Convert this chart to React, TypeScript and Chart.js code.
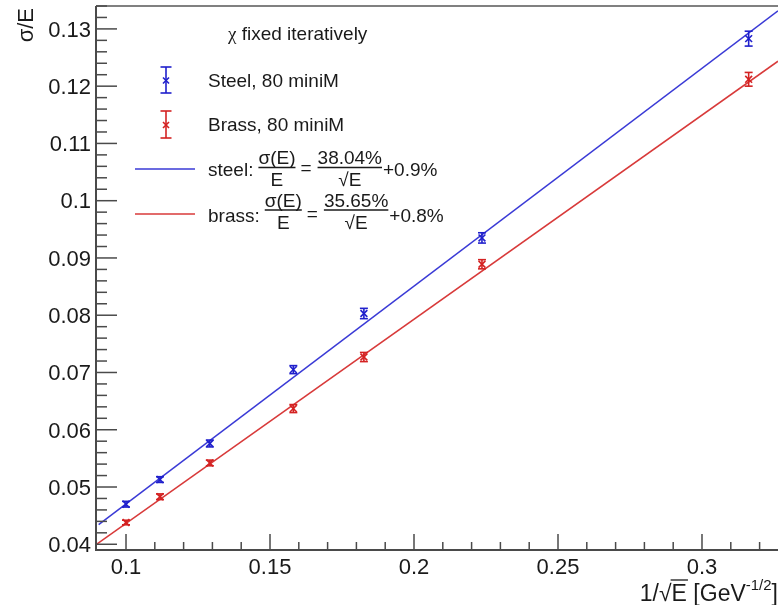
import React, { useEffect, useRef } from "react";
import { Chart, registerables } from "chart.js";

Chart.register(...registerables);

// ---------------- data ----------------
const invSqrtE = [0.1, 0.1118, 0.1291, 0.1581, 0.1826, 0.2236, 0.3162];
const steelValues = [0.047, 0.0513, 0.0576, 0.0705, 0.0803, 0.0935, 0.1283];
const steelErrors = [0.0005, 0.0005, 0.0006, 0.0007, 0.0009, 0.0009, 0.0013];
const brassValues = [0.0438, 0.0483, 0.0542, 0.0637, 0.0727, 0.0889, 0.1212];
const brassErrors = [0.0004, 0.0005, 0.0005, 0.0007, 0.0008, 0.0008, 0.0012];

// fit parameters: sigma/E = a / sqrt(E) + b
const steelFitParams = [0.3804, 0.009];
const brassFitParams = [0.3565, 0.008];
const steelFitStart = 0.0905;
const brassFitStart = 0.0896;

const xTickValues = [0.1, 0.15, 0.2, 0.25, 0.3];
const xTickLabels = ["0.1", "0.15", "0.2", "0.25", "0.3"];
const yTickValues = [0.04, 0.05, 0.06, 0.07, 0.08, 0.09, 0.1, 0.11, 0.12, 0.13];
const yTickLabels = ["0.04", "0.05", "0.06", "0.07", "0.08", "0.09", "0.1", "0.11", "0.12", "0.13"];

const X_MIN = 0.08958;
const X_MAX = 0.32639;
const Y_MIN = 0.039;
const Y_MAX = 0.134;

// ---------------- styles ----------------
const BLUE_LINE = "#3a3ad6";
const RED_LINE = "#d83a3a";
const BLUE_MARK = "#2020cc";
const RED_MARK = "#d42222";
const TEXT = "#1a1a1a";
const AXIS = "#4a4a4a";
const SANS = '"Liberation Sans", Arial, Helvetica, sans-serif';
const SERIF = '"Liberation Serif", "Times New Roman", serif';

const fitPoints = (p: number[], start: number) => [
  { x: start, y: p[0] * start + p[1] },
  { x: X_MAX, y: p[0] * X_MAX + p[1] },
];

const line = (ctx: CanvasRenderingContext2D, x1: number, y1: number, x2: number, y2: number) => {
  ctx.beginPath();
  ctx.moveTo(x1, y1);
  ctx.lineTo(x2, y2);
  ctx.stroke();
};

const drawErrMarker = (
  ctx: CanvasRenderingContext2D,
  x: number,
  y: number,
  top: number,
  bottom: number,
  color: string,
  cap: number,
  xs: number
) => {
  ctx.strokeStyle = color;
  ctx.lineWidth = 1.6;
  line(ctx, x, top, x, bottom);
  line(ctx, x - cap, top, x + cap, top);
  line(ctx, x - cap, bottom, x + cap, bottom);
  line(ctx, x - xs, y - xs, x + xs, y + xs);
  line(ctx, x - xs, y + xs, x + xs, y - xs);
};

const drawFrac = (
  ctx: CanvasRenderingContext2D,
  x: number,
  num: string,
  den: string,
  numBase: number,
  denBase: number,
  barY: number
) => {
  const w = Math.max(ctx.measureText(num).width, ctx.measureText(den).width);
  ctx.textAlign = "center";
  ctx.fillText(num, x + w / 2, numBase);
  ctx.fillText(den, x + w / 2, denBase);
  ctx.strokeStyle = TEXT;
  ctx.lineWidth = 1.3;
  line(ctx, x, barY, x + w, barY);
  ctx.textAlign = "left";
  return w;
};

const rootPlugin = {
  id: "rootStyle",
  afterDatasetsDraw(chart: any) {
    const ctx: CanvasRenderingContext2D = chart.ctx;
    const xs = chart.scales.x;
    const ys = chart.scales.y;
    // error bars on data points
    chart.data.datasets.forEach((ds: any) => {
      if (!ds.errors) return;
      ds.data.forEach((p: any, i: number) => {
        const px = xs.getPixelForValue(p.x);
        const py = ys.getPixelForValue(p.y);
        const top = ys.getPixelForValue(p.y + ds.errors[i]);
        const bot = ys.getPixelForValue(p.y - ds.errors[i]);
        ctx.save();
        drawErrMarker(ctx, px, py, top, bot, ds.borderColor, 4, 3.4);
        ctx.restore();
      });
    });
  },
  afterDraw(chart: any) {
    const ctx: CanvasRenderingContext2D = chart.ctx;
    const xs = chart.scales.x;
    const ys = chart.scales.y;
    const a = chart.chartArea;
    ctx.save();

    // frame
    ctx.strokeStyle = "#808080";
    ctx.lineWidth = 2;
    line(ctx, a.left, a.top, a.right, a.top);
    ctx.strokeStyle = AXIS;
    line(ctx, a.left, a.top, a.left, a.bottom + 1);
    line(ctx, a.left - 1, a.bottom, a.right, a.bottom);

    // x ticks (inward)
    ctx.lineWidth = 1.5;
    for (let k = 9; k <= 33; k++) {
      const v = k / 100;
      if (v <= X_MIN + 0.0005 || v > X_MAX) continue;
      const px = xs.getPixelForValue(v);
      const len = k % 5 === 0 ? 16 : 8;
      line(ctx, px, a.bottom, px, a.bottom - len);
    }
    // y ticks (inward)
    for (let k = 40; k <= 134; k += 2) {
      const v = k / 1000;
      if (v < Y_MIN || v > Y_MAX) continue;
      const py = ys.getPixelForValue(v);
      const len = k % 10 === 0 ? 21 : 11;
      line(ctx, a.left, py, a.left + len, py);
    }

    // tick labels
    ctx.fillStyle = TEXT;
    ctx.font = `22px ${SANS}`;
    ctx.textBaseline = "alphabetic";
    ctx.textAlign = "center";
    xTickValues.forEach((v, i) => {
      ctx.fillText(xTickLabels[i], xs.getPixelForValue(v), 573.5);
    });
    ctx.textAlign = "right";
    yTickValues.forEach((v, i) => {
      ctx.fillText(yTickLabels[i], 91, ys.getPixelForValue(v) + 7.8);
    });

    // y title (rotated)
    ctx.save();
    ctx.translate(33, 8);
    ctx.rotate(-Math.PI / 2);
    ctx.textAlign = "right";
    ctx.font = `22px ${SANS}`;
    ctx.fillText("σ/E", 0, 0);
    ctx.restore();

    // x title: 1/√E [GeV^-1/2]
    {
      const base = 601;
      ctx.font = `23px ${SANS}`;
      const wClose = ctx.measureText("]").width;
      ctx.font = `15px ${SANS}`;
      const wSup = ctx.measureText("-1/2").width;
      ctx.font = `23px ${SANS}`;
      const main = " [GeV";
      const wMain = ctx.measureText(main).width;
      const wE = ctx.measureText("E").width;
      const wRad = ctx.measureText("√").width;
      const w1 = ctx.measureText("1/").width;
      const right = 778;
      ctx.textAlign = "left";
      ctx.fillText("]", right - wClose, base);
      ctx.font = `15px ${SANS}`;
      ctx.fillText("-1/2", right - wClose - wSup, base - 11);
      ctx.font = `23px ${SANS}`;
      let x0 = right - wClose - wSup - wMain;
      ctx.fillText(main, x0, base);
      x0 -= wE;
      ctx.fillText("E", x0, base);
      const eStart = x0;
      x0 -= wRad;
      ctx.fillText("√", x0, base);
      x0 -= w1;
      ctx.fillText("1/", x0, base);
      ctx.strokeStyle = TEXT;
      ctx.lineWidth = 1.3;
      line(ctx, eStart - 1, base - 21, eStart + wE + 1, base - 21);
    }

    // legend header
    ctx.textAlign = "left";
    ctx.font = `19px ${SERIF}`;
    ctx.fillText("χ", 228, 39.5);
    const chiW = ctx.measureText("χ").width;
    ctx.font = `19px ${SANS}`;
    ctx.fillText(" fixed iteratively", 228 + chiW, 39.5);

    // legend markers
    drawErrMarker(ctx, 166, 80.5, 67, 93, BLUE_MARK, 5.5, 3);
    drawErrMarker(ctx, 166, 125, 111, 138, RED_MARK, 5.5, 3);
    ctx.fillStyle = TEXT;
    ctx.font = `19px ${SANS}`;
    ctx.fillText("Steel, 80 miniM", 208, 87);
    ctx.fillText("Brass, 80 miniM", 208, 131);

    // legend fit lines
    ctx.lineWidth = 1.5;
    ctx.strokeStyle = BLUE_LINE;
    line(ctx, 135, 169, 195, 169);
    ctx.strokeStyle = RED_LINE;
    line(ctx, 135, 214, 195, 214);

    const fitRow = (
      label: string,
      num2: string,
      constTerm: string,
      textBase: number,
      barY: number,
      numBase: number,
      denBase: number
    ) => {
      ctx.fillStyle = TEXT;
      ctx.font = `19px ${SANS}`;
      ctx.textAlign = "left";
      let x = 208;
      ctx.fillText(label, x, textBase);
      x += ctx.measureText(label).width + 5;
      x += drawFrac(ctx, x, "σ(E)", "E", numBase, denBase, barY) + 5;
      ctx.fillText("=", x, textBase - 2);
      x += ctx.measureText("=").width + 6;
      x += drawFrac(ctx, x, num2, "√E", numBase, denBase, barY) + 1;
      ctx.fillText(constTerm, x, textBase);
    };
    fitRow("steel:", "38.04%", "+0.9%", 176, 167.5, 164, 186);
    fitRow("brass:", "35.65%", "+0.8%", 222, 210, 206.5, 229);

    ctx.restore();
  },
};

export default function App() {
  const ref = useRef<HTMLCanvasElement>(null);
  useEffect(() => {
    const canvas = ref.current;
    if (!canvas) return;
    const chart = new Chart(canvas, {
      type: "scatter",
      data: {
        datasets: [
          {
            label: "steel fit",
            data: fitPoints(steelFitParams, steelFitStart),
            showLine: true,
            borderColor: BLUE_LINE,
            borderWidth: 1.5,
            pointRadius: 0,
            fill: false,
          },
          {
            label: "brass fit",
            data: fitPoints(brassFitParams, brassFitStart),
            showLine: true,
            borderColor: RED_LINE,
            borderWidth: 1.5,
            pointRadius: 0,
            fill: false,
          },
          {
            label: "Steel, 80 miniM",
            data: invSqrtE.map((x, i) => ({ x, y: steelValues[i] })),
            errors: steelErrors,
            borderColor: BLUE_MARK,
            backgroundColor: BLUE_MARK,
            pointRadius: 0,
            showLine: false,
          } as any,
          {
            label: "Brass, 80 miniM",
            data: invSqrtE.map((x, i) => ({ x, y: brassValues[i] })),
            errors: brassErrors,
            borderColor: RED_MARK,
            backgroundColor: RED_MARK,
            pointRadius: 0,
            showLine: false,
          } as any,
        ],
      },
      options: {
        responsive: false,
        animation: false,
        devicePixelRatio: 1,
        layout: { padding: { left: 96, top: 6, right: 0, bottom: 55 } },
        scales: {
          x: { type: "linear", min: X_MIN, max: X_MAX, display: false },
          y: { type: "linear", min: Y_MIN, max: Y_MAX, display: false },
        },
        plugins: {
          legend: { display: false },
          tooltip: { enabled: false },
        },
      },
      plugins: [rootPlugin],
    });
    return () => chart.destroy();
  }, []);
  return (
    <canvas
      ref={ref}
      width={778}
      height={605}
      style={{ position: "absolute", left: 0, top: 0, display: "block", background: "#fff" }}
    />
  );
}
